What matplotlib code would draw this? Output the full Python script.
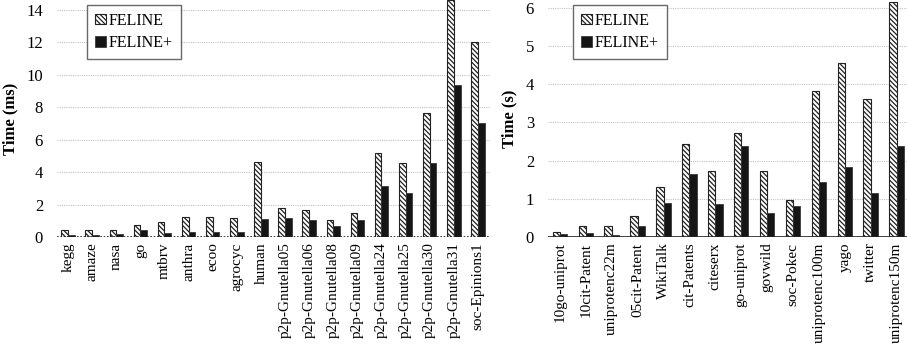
import numpy as np
import matplotlib
matplotlib.use("Agg")
import matplotlib.pyplot as plt

plt.rcParams['font.family'] = ['Liberation Serif', 'DejaVu Serif']
plt.rcParams['hatch.linewidth'] = 0.9
plt.rcParams['hatch.color'] = '#202020'

# small graphs, query time in ms
small_names = ["kegg", "amaze", "nasa", "go", "mtbrv", "anthra", "ecoo", "agrocyc",
               "human", "p2p-Gnutella05", "p2p-Gnutella06", "p2p-Gnutella08",
               "p2p-Gnutella09", "p2p-Gnutella24", "p2p-Gnutella25",
               "p2p-Gnutella30", "p2p-Gnutella31", "soc-Epinions1"]
small_feline = [0.45, 0.45, 0.45, 0.76, 0.9, 1.23, 1.23, 1.19, 4.63, 1.81, 1.69,
                1.07, 1.48, 5.19, 4.53, 7.61, 14.6, 12.0]
small_plus = [0.14, 0.12, 0.18, 0.41, 0.25, 0.33, 0.33, 0.33, 1.11, 1.17, 1.07,
              0.66, 1.07, 3.13, 2.72, 4.57, 9.34, 7.0]

# large graphs, query time in s
large_names = ["10go-uniprot", "10cit-Patent", "uniprotenc22m", "05cit-Patent",
               "WikiTalk", "cit-Patents", "citeserx", "go-uniprot", "govwild",
               "soc-Pokec", "uniprotenc100m", "yago", "twitter", "uniprotenc150m"]
large_feline = [0.12, 0.30, 0.28, 0.54, 1.30, 2.43, 1.72, 2.73, 1.72, 0.96,
                3.82, 4.54, 3.62, 6.15]
large_plus = [0.09, 0.10, 0.06, 0.28, 0.89, 1.65, 0.87, 2.37, 0.63, 0.80,
              1.45, 1.84, 1.15, 2.37]


def draw(ax, names, feline, plus, ylabel, yticks, ylim, xlim, dotted_zero):
    x = np.arange(len(names))
    w = 0.28
    ax.bar(x - w / 2, feline, w, color="white", edgecolor="#222222",
           hatch="\\" * 7, linewidth=0.8, label="FELINE", zorder=3)
    ax.bar(x + w / 2, plus, w, color="#151515", edgecolor="#3a3a3a",
           linewidth=0.6, label="FELINE+", zorder=3)
    ax.set_xlim(*xlim)
    ax.set_ylim(*ylim)
    ax.set_yticks(yticks)
    ax.set_xticks(x)
    ax.set_xticklabels(names, rotation=90, fontsize=11)
    ax.tick_params(axis="y", labelsize=12, length=0, pad=10)
    ax.tick_params(axis="x", length=0, pad=4)
    ax.set_ylabel(ylabel, fontsize=12, fontweight="bold", labelpad=6)
    for s in ["top", "right", "left", "bottom"]:
        ax.spines[s].set_visible(False)
    for t in yticks[1:]:
        ax.axhline(t, color="#c4c4c4", lw=0.8, ls=(0, (1, 1)), zorder=1)
    if dotted_zero:
        ax.axhline(0, color="#222222", lw=1.2, ls=(0, (1, 1)), zorder=4)
    else:
        ax.axhline(0, color="#222222", lw=1.2, zorder=4)
    leg = ax.legend(loc="upper left", bbox_to_anchor=(0.07, 0.98), fontsize=11.5,
                    frameon=True, fancybox=False, handlelength=0.65,
                    handleheight=0.65, handletextpad=0.2, borderpad=0.5,
                    labelspacing=0.4, borderaxespad=0)
    leg.get_frame().set_edgecolor("#444444")
    leg.get_frame().set_linewidth(1.0)


fig = plt.figure(figsize=(9.07, 3.54), dpi=100)
ax1 = fig.add_axes([0.0628, 0.3305, 0.4774, 0.6695])
ax2 = fig.add_axes([0.6042, 0.3305, 0.3958, 0.6695])

draw(ax1, small_names, small_feline, small_plus, "Time (ms)",
     [0, 2, 4, 6, 8, 10, 12, 14], (0, 14.6), (-0.46, 17.5), True)
draw(ax2, large_names, large_feline, large_plus, "Time (s)",
     [0, 1, 2, 3, 4, 5, 6], (0, 6.2), (-0.46, 13.4), False)

fig.savefig("out.png", dpi=100)
